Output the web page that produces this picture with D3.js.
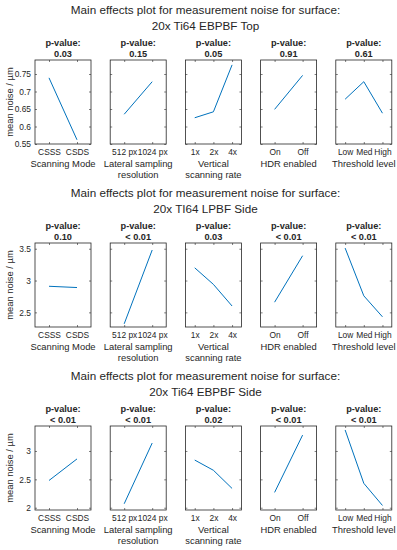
<!DOCTYPE html>
<html>
<head>
<meta charset="utf-8">
<script src="https://cdn.jsdelivr.net/npm/d3@7"></script>
<style>
  body { margin: 0; background: #fff; }
  text { font-family: "Liberation Sans", Arial, Helvetica, sans-serif; fill: #262626; }
</style>
</head>
<body>
<script>
// Data: three surfaces, five factors each
var surfaces = ["20x Ti64 EBPBF Top", "20x TI64 LPBF Side", "20x Ti64 EBPBF Side"];

var factorNames = [["Scanning Mode"], ["Lateral sampling", "resolution"],
                   ["Vertical", "scanning rate"], ["HDR enabled"], ["Threshold level"]];

var factorLevels = [["CSSS", "CSDS"], ["512 px", "1024 px"], ["1x", "2x", "4x"],
                    ["On", "Off"], ["Low", "Med", "High"]];

var pValues = [["0.03", "0.15", "0.05", "0.91", "0.61"],
               ["0.10", "< 0.01", "0.03", "< 0.01", "< 0.01"],
               ["< 0.01", "< 0.01", "0.02", "< 0.01", "< 0.01"]];

// mean noise per factor level (µm)
var meansTop = [[0.739, 0.562], [0.635, 0.728], [0.625, 0.642, 0.776],
                [0.649, 0.746], [0.678, 0.728, 0.638]];
var meansLpbfSide = [[2.91, 2.89], [2.32, 3.48], [3.20, 2.94, 2.60],
                     [2.66, 3.39], [3.51, 2.76, 2.43]];
var meansEbpbfSide = [[2.48, 2.86], [2.07, 3.14], [2.84, 2.66, 2.34],
                      [2.27, 3.28], [3.37, 2.43, 2.04]];
var means = [meansTop, meansLpbfSide, meansEbpbfSide];

// y axis limits and tick values per surface
var yDomains = [[0.55, 0.79], [2.27, 3.59], [1.96, 3.44]];
var yTicks = [[0.55, 0.6, 0.65, 0.7, 0.75], [2.5, 3, 3.5], [2, 2.5, 3]];

var W = 397, H = 550;
var panelStep = 183,   // vertical distance between the three blocks
    boxTop = 60, boxH = 84, boxW = 56,
    boxLeft = 35, boxStep = 75.2;

var svg = d3.select("body").append("svg")
    .attr("width", W)
    .attr("height", H);

surfaces.forEach(function(surface, s) {
    var g = svg.append("g")
        .attr("transform", "translate(0," + (s * panelStep) + ")");

    // two-line title
    g.append("text")
        .attr("x", 205.5).attr("y", 14)
        .attr("text-anchor", "middle")
        .attr("font-size", "11.7px")
        .text("Main effects plot for measurement noise for surface:");
    g.append("text")
        .attr("x", 205.5).attr("y", 29.5)
        .attr("text-anchor", "middle")
        .attr("font-size", "11.7px")
        .text(surface);

    var yScale = d3.scaleLinear().domain(yDomains[s]).range([boxTop + boxH, boxTop]);

    factorLevels.forEach(function(levels, f) {
        var x0 = boxLeft + f * boxStep;
        var xScale = d3.scaleLinear()
            .domain([0.5, levels.length + 0.5])
            .range([x0, x0 + boxW]);
        var cx = x0 + boxW / 2;

        // p-value heading
        g.append("text")
            .attr("x", cx).attr("y", 45.5)
            .attr("text-anchor", "middle")
            .attr("font-size", "9.2px")
            .attr("font-weight", "bold")
            .text("p-value:");
        g.append("text")
            .attr("x", cx).attr("y", 56.5)
            .attr("text-anchor", "middle")
            .attr("font-size", "9.2px")
            .attr("font-weight", "bold")
            .text(pValues[s][f]);

        // x axis: labels below, small inward ticks top and bottom
        var xAxis = d3.axisBottom(xScale)
            .tickValues(d3.range(1, levels.length + 1))
            .tickSize(-2)
            .tickPadding(5)
            .tickFormat(function(d) { return levels[d - 1]; });
        var xg = g.append("g")
            .attr("transform", "translate(0," + (boxTop + boxH) + ")")
            .call(xAxis);
        xg.select(".domain").remove();
        xg.selectAll("line").attr("stroke", "#262626").attr("stroke-width", 0.6);
        xg.selectAll("text")
            .attr("font-size", "8.4px")
            .attr("font-family", "'Liberation Sans', Arial, sans-serif")
            .attr("fill", "#262626");

        var xTop = g.append("g")
            .attr("transform", "translate(0," + boxTop + ")")
            .call(d3.axisTop(xScale).tickValues(d3.range(1, levels.length + 1))
                .tickSize(-2).tickFormat(""));
        xTop.select(".domain").remove();
        xTop.selectAll("line").attr("stroke", "#262626").attr("stroke-width", 0.6);

        // y ticks (labels only on the first box), inward on both sides
        var yl = g.append("g")
            .attr("transform", "translate(" + x0 + ",0)")
            .call(d3.axisLeft(yScale).tickValues(yTicks[s]).tickSize(-2).tickPadding(4)
                .tickFormat(f === 0 ? d3.format("") : ""));
        yl.select(".domain").remove();
        yl.selectAll("line").attr("stroke", "#262626").attr("stroke-width", 0.6);
        yl.selectAll("text")
            .attr("font-size", "8.4px")
            .attr("font-family", "'Liberation Sans', Arial, sans-serif")
            .attr("fill", "#262626");

        var yr = g.append("g")
            .attr("transform", "translate(" + (x0 + boxW) + ",0)")
            .call(d3.axisRight(yScale).tickValues(yTicks[s]).tickSize(-2).tickFormat(""));
        yr.select(".domain").remove();
        yr.selectAll("line").attr("stroke", "#262626").attr("stroke-width", 0.6);

        // box
        g.append("rect")
            .attr("x", x0).attr("y", boxTop)
            .attr("width", boxW).attr("height", boxH)
            .attr("fill", "none")
            .attr("stroke", "#262626")
            .attr("stroke-width", 0.8);

        // main effect line
        var line = d3.line()
            .x(function(d, i) { return xScale(i + 1); })
            .y(function(d) { return yScale(d); });
        g.append("path")
            .datum(means[s][f])
            .attr("d", line)
            .attr("fill", "none")
            .attr("stroke", "#0072BD")
            .attr("stroke-width", 1);

        // factor name below the ticks
        factorNames[f].forEach(function(t, k) {
            g.append("text")
                .attr("x", cx).attr("y", 167 + k * 10.7)
                .attr("text-anchor", "middle")
                .attr("font-size", "9.4px")
                .text(t);
        });
    });

    // y axis label
    g.append("text")
        .attr("transform", "translate(12.5," + (boxTop + boxH / 2) + ") rotate(-90)")
        .attr("text-anchor", "middle")
        .attr("font-size", "9.4px")
        .text("mean noise / \u00b5m");
});
</script>
</body>
</html>
